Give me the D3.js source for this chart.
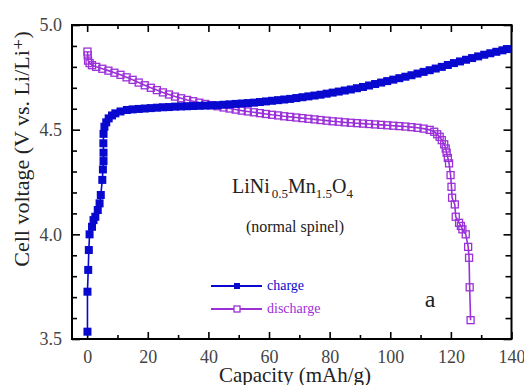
<!DOCTYPE html>
<html>
<head>
<meta charset="utf-8">
<script src="https://cdn.jsdelivr.net/npm/d3@7"></script>
<style>
  html, body { margin: 0; padding: 0; background: #fff; }
  svg { display: block; }
  text { font-family: "Liberation Serif", "DejaVu Serif", serif; }
</style>
</head>
<body>
<svg id="chart" width="524" height="385"></svg>
<script>
// charge curve (capacity mAh/g, voltage V)
const chargeCap = [0.1, 0.1, 0.35, 0.55, 0.8, 1.6, 2.1, 2.7, 3.5, 4.1, 4.5, 5.0, 5.2, 5.4, 5.4, 5.35, 5.4, 5.7, 6.3, 7.1, 8.2, 9.3, 11, 13.1,
  15, 17, 19, 21, 23, 25, 27, 29, 31, 33, 35, 37, 39, 41, 43, 45, 47, 49, 51, 53, 55, 57, 59, 61, 63, 65, 67, 69, 71, 73, 75,
  77, 79, 81, 83, 85, 87, 89, 91, 93, 95, 97, 99, 101, 103, 105, 107, 109, 111, 113, 115, 117, 119, 121, 123, 125, 127, 129,
  131, 133, 135, 137, 138.5];
const chargeV = [3.535, 3.726, 3.83, 3.925, 4.0, 4.036, 4.068, 4.084, 4.116, 4.148, 4.188, 4.26, 4.31, 4.35, 4.39, 4.435, 4.48, 4.514, 4.535, 4.554, 4.568, 4.578, 4.587, 4.594,
  4.597, 4.599, 4.601, 4.603, 4.605, 4.607, 4.608, 4.61, 4.611, 4.612, 4.613, 4.614, 4.615, 4.616, 4.617, 4.619, 4.621, 4.623, 4.625, 4.627, 4.629, 4.632, 4.635, 4.638, 4.641, 4.644, 4.647, 4.651, 4.655, 4.659, 4.663,
  4.667, 4.672, 4.677, 4.682, 4.687, 4.692, 4.698, 4.704, 4.711, 4.718, 4.725, 4.732, 4.739, 4.746, 4.753, 4.76, 4.768, 4.776, 4.784, 4.792, 4.8, 4.809, 4.818, 4.826, 4.834, 4.842, 4.85,
  4.858, 4.865, 4.872, 4.879, 4.885];

// discharge curve
const dischargeCap = [0.1, 0.2, 0.3, 0.8, 1.6, 3, 5, 7, 9, 11, 13, 15, 17, 19, 21, 23, 25, 27, 29, 31, 33, 35, 37, 39, 41, 43, 45, 47, 49,
  51, 53, 55, 57, 59, 61, 63, 65, 67, 69, 71, 73, 75, 77, 79, 81, 83, 85, 87, 89, 91, 93, 95, 97, 99, 101, 103, 105, 107, 109, 111, 113,
  114.5, 115.5, 116.3, 117, 117.8, 118.3, 118.6, 119, 119.4, 119.9, 120.2, 120.4, 121.3, 121.6, 122.7, 123.3, 123.8, 124.9, 125.7, 126, 126.2, 126.5];
const dischargeV = [4.873, 4.855, 4.83, 4.818, 4.808, 4.8, 4.791, 4.782, 4.772, 4.762, 4.75, 4.738, 4.725, 4.712, 4.7, 4.689, 4.678, 4.668, 4.658, 4.65, 4.642, 4.636, 4.629, 4.623, 4.617, 4.612, 4.606, 4.601, 4.596,
  4.591, 4.587, 4.583, 4.579, 4.575, 4.571, 4.568, 4.564, 4.561, 4.558, 4.555, 4.552, 4.549, 4.546, 4.543, 4.54, 4.538, 4.535, 4.533, 4.531, 4.529, 4.527, 4.525, 4.523, 4.521, 4.519, 4.517, 4.515, 4.512, 4.509, 4.505, 4.499,
  4.49, 4.478, 4.466, 4.45, 4.43, 4.41, 4.39, 4.365, 4.339, 4.283, 4.227, 4.175, 4.143, 4.084, 4.055, 4.04, 4.024, 4.0, 3.94, 3.888, 3.747, 3.59];

const xMajor = [0, 20, 40, 60, 80, 100, 120, 140];
const xMinor = [10, 30, 50, 70, 90, 110, 130];
const yMajor = [3.5, 4.0, 4.5, 5.0];
const yMinor = [3.6, 3.7, 3.8, 3.9, 4.1, 4.2, 4.3, 4.4, 4.6, 4.7, 4.8, 4.9];

const chargeColor = '#0808cf';
const dischargeColor = '#9b30d9';

const svg = d3.select('#chart');
const mLeft = 72, mRight = 511.5, mTop = 25, mBottom = 339;

const x = d3.scaleLinear().domain([-5, 140]).range([mLeft, mRight]);
const y = d3.scaleLinear().domain([3.5, 5.0]).range([mBottom, mTop]);

const fmt1 = d3.format('.1f');

// axes with inward ticks
function styleAxis(g) {
  g.select('.domain').remove();
  g.selectAll('line').attr('stroke', '#000').attr('stroke-width', 1.6);
  g.selectAll('text').attr('fill', '#444').style('font-size', '18px')
    .style('font-family', '"Liberation Serif", serif');
}

svg.append('g').attr('transform', `translate(0,${mBottom})`)
  .call(d3.axisBottom(x).tickValues(xMajor).tickSize(-7).tickPadding(11)).call(styleAxis);
svg.append('g').attr('transform', `translate(0,${mBottom})`)
  .call(d3.axisBottom(x).tickValues(xMinor).tickSize(-4).tickFormat('')).call(styleAxis);
svg.append('g').attr('transform', `translate(0,${mTop})`)
  .call(d3.axisTop(x).tickValues(xMajor).tickSize(-7).tickFormat('')).call(styleAxis);
svg.append('g').attr('transform', `translate(0,${mTop})`)
  .call(d3.axisTop(x).tickValues(xMinor).tickSize(-4).tickFormat('')).call(styleAxis);

svg.append('g').attr('transform', `translate(${mLeft},0)`)
  .call(d3.axisLeft(y).tickValues(yMajor).tickSize(-8).tickPadding(10).tickFormat(fmt1)).call(styleAxis);
svg.append('g').attr('transform', `translate(${mLeft},0)`)
  .call(d3.axisLeft(y).tickValues(yMinor).tickSize(-5).tickFormat('')).call(styleAxis);
svg.append('g').attr('transform', `translate(${mRight},0)`)
  .call(d3.axisRight(y).tickValues(yMajor).tickSize(-8).tickFormat('')).call(styleAxis);
svg.append('g').attr('transform', `translate(${mRight},0)`)
  .call(d3.axisRight(y).tickValues(yMinor).tickSize(-6).tickFormat('')).call(styleAxis);

// frame
svg.append('rect')
  .attr('x', mLeft).attr('y', mTop)
  .attr('width', mRight - mLeft).attr('height', mBottom - mTop)
  .attr('fill', 'none').attr('stroke', '#000').attr('stroke-width', 2);

const charge = chargeCap.map((c, i) => ({ c, v: chargeV[i] }));
const discharge = dischargeCap.map((c, i) => ({ c, v: dischargeV[i] }));

const line = d3.line().x(d => x(d.c)).y(d => y(d.v));
const ms = 8;

// discharge (open squares)
svg.append('path').datum(discharge)
  .attr('d', line).attr('fill', 'none')
  .attr('stroke', dischargeColor).attr('stroke-width', 1.6);
svg.append('g').selectAll('rect')
  .data(discharge).enter().append('rect')
  .attr('x', d => x(d.c) - (ms - 1) / 2).attr('y', d => y(d.v) - (ms - 1) / 2)
  .attr('width', ms - 1).attr('height', ms - 1)
  .attr('fill', 'none').attr('stroke', dischargeColor).attr('stroke-width', 1.3);

// charge (filled squares)
svg.append('path').datum(charge)
  .attr('d', line).attr('fill', 'none')
  .attr('stroke', chargeColor).attr('stroke-width', 1.6);
svg.append('g').selectAll('rect')
  .data(charge).enter().append('rect')
  .attr('x', d => x(d.c) - ms / 2).attr('y', d => y(d.v) - ms / 2)
  .attr('width', ms).attr('height', ms)
  .attr('fill', chargeColor);

// axis titles
svg.append('text')
  .attr('transform', `translate(29,149) rotate(-90)`)
  .attr('text-anchor', 'middle')
  .attr('fill', '#222').style('font-size', '22px')
  .text('Cell voltage (V vs. Li/Li⁺)');

svg.append('text')
  .attr('x', 295).attr('y', 382)
  .attr('text-anchor', 'middle')
  .attr('fill', '#222').style('font-size', '21px')
  .text('Capacity (mAh/g)');

// compound label
const formula = svg.append('text')
  .attr('x', 232).attr('y', 193)
  .attr('fill', '#222').style('font-size', '20px');
formula.append('tspan').text('LiNi');
formula.append('tspan').attr('dy', 5).attr('dx', 2).style('font-size', '13px').text('0.5');
formula.append('tspan').attr('dy', -5).text('Mn');
formula.append('tspan').attr('dy', 5).style('font-size', '13px').text('1.5');
formula.append('tspan').attr('dy', -5).text('O');
formula.append('tspan').attr('dy', 5).style('font-size', '13px').text('4');

svg.append('text')
  .attr('x', 295).attr('y', 232)
  .attr('text-anchor', 'middle')
  .attr('fill', '#222').style('font-size', '16px')
  .text('(normal spinel)');

svg.append('text')
  .attr('x', 430).attr('y', 307)
  .attr('text-anchor', 'middle')
  .attr('fill', '#222').style('font-size', '24px')
  .text('a');

// legend
const legend = [
  { name: 'charge', color: chargeColor, filled: true, yy: 286 },
  { name: 'discharge', color: dischargeColor, filled: false, yy: 309 }
];
legend.forEach(l => {
  svg.append('line')
    .attr('x1', 211).attr('x2', 262).attr('y1', l.yy).attr('y2', l.yy)
    .attr('stroke', l.color).attr('stroke-width', 1.8);
  svg.append('rect')
    .attr('x', 237 - 3).attr('y', l.yy - 3).attr('width', 6).attr('height', 6)
    .attr('fill', l.filled ? l.color : '#fff')
    .attr('stroke', l.color).attr('stroke-width', l.filled ? 0 : 1.3);
  svg.append('text')
    .attr('x', 267).attr('y', l.yy + 4)
    .attr('fill', l.color).style('font-size', '14px')
    .text(l.name);
});
</script>
</body>
</html>
